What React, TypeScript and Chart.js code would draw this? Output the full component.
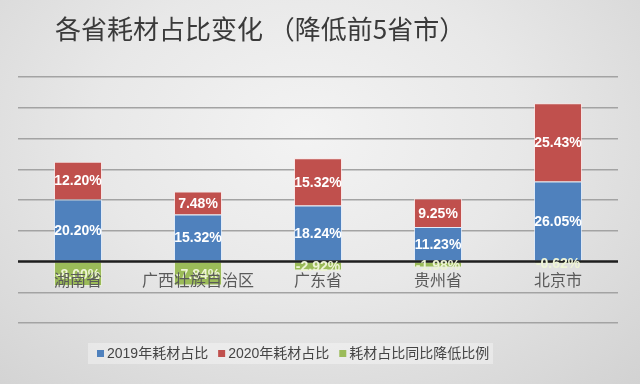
import React, { useEffect, useRef } from 'react';
import { Chart, registerables } from 'chart.js';

Chart.register(...registerables);

const TITLE = '各省耗材占比变化 （降低前5省市）';
const categories = ['湖南省', '广西壮族自治区', '广东省', '贵州省', '北京市'];
const seriesNames = ['2019年耗材占比', '2020年耗材占比', '耗材占比同比降低比例'];
const share2019 = [20.2, 15.32, 18.24, 11.23, 26.05];
const share2020 = [12.2, 7.48, 15.32, 9.25, 25.43];
const decline = [-8.0, -7.84, -2.92, -1.98, -0.62];
const colors = ['#4f81bd', '#c0504d', '#9bbb59'];
const labelColors = ['#ffffff', '#ffffff', '#eef4d6'];

const SANS = '"Liberation Sans", "Noto Sans CJK SC", sans-serif';
const CJK = '"Noto Sans CJK SC", sans-serif';

const overlay = {
  id: 'overlay',
  afterDatasetsDraw(chart: any) {
    const ctx = chart.ctx;
    const xs = chart.scales.x;
    const ys = chart.scales.y;
    const zeroY = ys.getPixelForValue(0);
    const area = chart.chartArea;
    ctx.save();
    ctx.strokeStyle = '#1e1e1e';
    ctx.lineWidth = 2.5;
    ctx.beginPath();
    ctx.moveTo(area.left, zeroY);
    ctx.lineTo(area.right, zeroY);
    ctx.stroke();
    ctx.textAlign = 'center';
    ctx.textBaseline = 'middle';
    ctx.font = 'bold 14px ' + SANS;
    chart.data.datasets.forEach((ds: any, di: number) => {
      const meta = chart.getDatasetMeta(di);
      meta.data.forEach((bar: any, i: number) => {
        const p = bar.getProps(['x', 'y', 'base'], true);
        const cy = (p.y + p.base) / 2;
        ctx.fillStyle = labelColors[di];
        ctx.fillText(ds.data[i].toFixed(2) + '%', p.x, cy + 1);
      });
    });
    ctx.font = '16px ' + CJK;
    ctx.fillStyle = '#5a5a5a';
    categories.forEach((c, i) => {
      ctx.fillText(c, xs.getPixelForValue(i), zeroY + 18);
    });
    ctx.restore();
  },
  afterDraw(chart: any) {
    const ctx = chart.ctx;
    ctx.save();
    ctx.font = '400 26px ' + CJK;
    ctx.fillStyle = '#3a3a3a';
    ctx.textAlign = 'left';
    ctx.textBaseline = 'middle';
    ctx.fillText(TITLE, 55, 29);
    ctx.fillStyle = 'rgba(255,255,255,0.35)';
    ctx.fillRect(88, 343, 405, 21);
    ctx.font = '14px ' + SANS;
    let x = 97;
    const cy = 354;
    seriesNames.forEach((n, i) => {
      ctx.fillStyle = colors[i];
      ctx.fillRect(x, cy - 4, 7, 7);
      x += 10;
      ctx.fillStyle = '#454545';
      ctx.fillText(n, x, cy);
      x += ctx.measureText(n).width + 10;
    });
    ctx.restore();
  },
};

export default function App() {
  const ref = useRef<HTMLCanvasElement | null>(null);
  useEffect(() => {
    document.body.style.margin = '0';
    const chart = new Chart(ref.current as HTMLCanvasElement, {
      type: 'bar',
      data: {
        labels: categories,
        datasets: [
          { label: seriesNames[0], data: share2019, backgroundColor: colors[0], borderColor: 'rgba(220,235,255,0.7)', borderWidth: 1 },
          { label: seriesNames[1], data: share2020, backgroundColor: colors[1], borderColor: 'rgba(255,225,225,0.7)', borderWidth: 1 },
          { label: seriesNames[2], data: decline, backgroundColor: colors[2], borderColor: 'rgba(235,245,215,0.7)', borderWidth: 1 },
        ],
      },
      options: {
        responsive: false,
        animation: false,
        layout: { padding: { top: 77, bottom: 61, left: 18, right: 22 } },
        datasets: { bar: { barPercentage: 0.4, categoryPercentage: 1 } },
        plugins: { legend: { display: false }, tooltip: { enabled: false }, title: { display: false } },
        scales: {
          x: { stacked: true, display: false },
          y: {
            stacked: true,
            min: -20,
            max: 60,
            display: true,
            ticks: { display: false, stepSize: 10 },
            border: { display: false },
            grid: {
              drawTicks: false,
              color: (c: any) => (c.tick && c.tick.value === 0 ? 'rgba(0,0,0,0)' : '#a3a3a3'),
              lineWidth: 1.5,
            },
          },
        },
      },
      plugins: [overlay],
    });
    return () => chart.destroy();
  }, []);
  return (
    <div
      style={{
        position: 'fixed',
        left: 0,
        top: 0,
        width: 640,
        height: 384,
        background: 'radial-gradient(ellipse at 48% 35%, #f3f3f3 0%, #e8e8e8 45%, #d2d2d2 100%)',
      }}
    >
      <canvas ref={ref} width={640} height={384} />
    </div>
  );
}
